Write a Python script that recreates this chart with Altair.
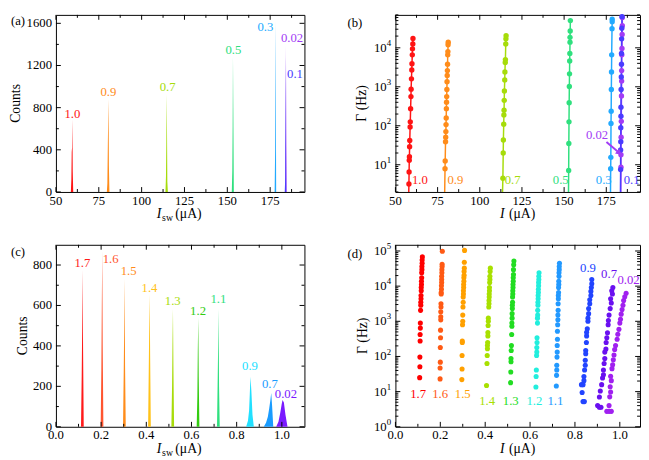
import altair as alt
import pandas as pd

FONT = "Liberation Serif"

# ---------------- panel (a): switching histograms ----------------
A_SERIES = ["1.0", "0.9", "0.7", "0.5", "0.3", "0.02", "0.1"]
A_COLORS = ["#ff1414", "#ff8c1a", "#a6dc0a", "#2fe07e", "#22aaff", "#a23cf5", "#4a3cff"]
A_HIST_X = {
    "1.0": [58.7, 59.0, 59.2, 59.4, 59.6, 59.8, 60.1],
    "0.9": [79.7, 80.0, 80.3, 80.5, 80.7, 80.9, 81.2],
    "0.7": [113.9, 114.2, 114.4, 114.6, 114.8, 115.0, 115.3],
    "0.5": [152.6, 152.9, 153.1, 153.3, 153.5, 153.8],
    "0.3": [177.6, 177.9, 178.1, 178.3, 178.5],
    "0.02": [183.7, 184.0, 184.2, 184.4, 184.6],
    "0.1": [183.5, 183.8, 184.0, 184.2, 184.4],
}
A_HIST_Y = {
    "1.0": [0, 120, 380, 420, 690, 200, 0],
    "0.9": [0, 80, 480, 700, 880, 250, 0],
    "0.7": [0, 150, 450, 930, 600, 100, 0],
    "0.5": [0, 200, 620, 1280, 800, 0],
    "0.3": [0, 400, 1620, 900, 0],
    "0.02": [0, 500, 1390, 600, 0],
    "0.1": [0, 140, 1280, 540, 0],
}
A_LABEL_X = [59.6, 80.6, 115.2, 153.5, 172.2, 187.8, 189.5]
A_LABEL_Y = [743, 945, 994, 1349, 1561, 1461, 1122]

# ---------------- panel (b): escape rates ----------------
B_SERIES = ["1.0", "0.9", "0.7", "0.5", "0.3", "0.02", "0.1"]
B_I = {
    "1.0": [58.0, 58.1, 58.2, 58.3, 58.4, 58.5, 58.7, 58.8, 59.0, 59.2, 59.3, 59.5, 59.7, 59.8, 60.0, 60.1, 60.3, 60.4],
    "0.9": [79.4, 79.5, 79.7, 79.8, 79.9, 80.0, 80.1, 80.2, 80.3, 80.4, 80.5, 80.6, 80.7, 80.8, 80.9, 81.0, 81.1, 81.2, 81.3],
    "0.7": [113.7, 113.9, 114.0, 114.2, 114.3, 114.4, 114.5, 114.6, 114.8, 114.9, 115.1, 115.2, 115.4, 115.5, 115.6],
    "0.5": [152.7, 152.8, 152.9, 153.0, 153.1, 153.2, 153.3, 153.4, 153.5, 153.5, 153.6, 153.7],
    "0.3": [177.6, 177.7, 177.8, 177.9, 178.0, 178.1, 178.2, 178.4, 178.5, 178.5],
    "0.02": [183.7, 183.7, 183.8, 183.9, 184.0, 184.1, 184.1, 184.2, 184.3, 184.4, 184.5, 184.5],
    "0.1": [183.5, 183.5, 183.6, 183.6, 183.7, 183.7, 183.8, 183.9, 184.0, 184.0, 184.1, 184.2, 184.3],
}
B_G = {
    "1.0": [3.2, 6.5, 13, 16, 29, 42, 93, 126, 275, 560, 870, 1600, 2700, 3900, 6600, 9400, 12600, 17400],
    "0.9": [7.9, 12.5, 39, 51, 71, 107, 158, 275, 400, 560, 850, 1350, 1950, 2600, 3800, 6600, 8000, 12000, 14000],
    "0.7": [4.5, 20, 43, 110, 190, 250, 450, 780, 1500, 2400, 4200, 5000, 12600, 17000, 20500],
    "0.5": [7.1, 35, 126, 390, 1020, 2150, 4600, 7200, 14000, 18600, 27000, 50000],
    "0.3": [7.9, 15.5, 115, 235, 850, 2400, 6600, 31000, 47000, 54000],
    "0.02": [8.6, 18, 51, 130, 580, 1400, 2600, 6600, 9600, 22000, 37000, 60000],
    "0.1": [7.5, 24, 39, 89, 175, 300, 850, 1780, 3800, 7200, 17000, 32000, 63000],
}
B_LINE_BOTTOM_I = {"1.0": 57.9, "0.9": 79.2, "0.7": 113.5, "0.5": 152.6, "0.3": 177.5, "0.02": 183.6, "0.1": 183.4}
B_LABELS = ["1.0", "0.9", "0.7", "0.5", "0.3", "0.1", "0.02"]
B_LABEL_X = [64.5, 85.5, 119.5, 148.0, 173.5, 190.0, 169.5]
B_LABEL_Y = [4.1, 4.1, 4.1, 4.1, 4.1, 4.1, 57]
B_ARROW = {"x": [175.1], "y": [38.5], "x2": [182.3], "y2": [21.0]}

# ---------------- panel (c): switching histograms ----------------
C_SERIES = ["1.7", "1.6", "1.5", "1.4", "1.3", "1.2", "1.1", "0.9", "0.7", "0.02"]
C_COLORS = ["#ff1a1a", "#ff5530", "#ff8c1a", "#ffc21a", "#a8dc0a", "#33cc11", "#2fe07e", "#22e0ff", "#1a9cff", "#7a1aff"]
C_HIST_X = {
    "1.7": [0.111, 0.114, 0.116, 0.118, 0.120, 0.123],
    "1.6": [0.198, 0.201, 0.203, 0.205, 0.207, 0.210],
    "1.5": [0.297, 0.300, 0.302, 0.304, 0.306, 0.309],
    "1.4": [0.408, 0.411, 0.413, 0.415, 0.417, 0.420],
    "1.3": [0.511, 0.514, 0.516, 0.518, 0.520, 0.523],
    "1.2": [0.623, 0.626, 0.628, 0.630, 0.632, 0.635],
    "1.1": [0.713, 0.716, 0.718, 0.720, 0.722, 0.725],
    "0.9": [0.842, 0.850, 0.855, 0.858, 0.861, 0.865, 0.870, 0.876],
    "0.7": [0.920, 0.930, 0.938, 0.944, 0.949, 0.953, 0.957, 0.962],
    "0.02": [0.975, 0.985, 0.993, 0.999, 1.003, 1.009, 1.016, 1.025],
}
C_HIST_Y = {
    "1.7": [0, 250, 470, 776, 400, 0],
    "1.6": [0, 280, 590, 868, 400, 0],
    "1.5": [0, 270, 480, 733, 300, 0],
    "1.4": [0, 300, 500, 655, 350, 0],
    "1.3": [0, 200, 420, 583, 300, 0],
    "1.2": [0, 150, 380, 539, 250, 0],
    "1.1": [0, 240, 400, 583, 200, 0],
    "0.9": [0, 30, 80, 160, 248, 180, 60, 0],
    "0.7": [0, 20, 50, 90, 130, 167, 100, 0],
    "0.02": [0, 25, 70, 110, 132, 120, 60, 0],
}
C_LABEL_X = [0.117, 0.242, 0.322, 0.414, 0.517, 0.629, 0.719, 0.859, 0.947, 1.018]
C_LABEL_Y = [812, 829, 768, 687, 623, 571, 631, 298, 209, 160]

# ---------------- panel (d): escape rates ----------------
D_SERIES = ["1.7", "1.6", "1.5", "1.4", "1.3", "1.2", "1.1", "0.9", "0.7", "0.02"]
D_COLORS = ["#ff0000", "#ff5a14", "#ffa000", "#a8e000", "#22dd22", "#22eedd", "#2299ff", "#2244ff", "#6a10f0", "#a020f0"]
D_I = {
    "1.7": [0.120, 0.119, 0.119, 0.118, 0.118, 0.117, 0.117, 0.116, 0.116, 0.115, 0.115, 0.114, 0.114, 0.113, 0.113, 0.112, 0.111, 0.111, 0.110, 0.110, 0.109, 0.109, 0.108],
    "1.6": [0.209, 0.208, 0.208, 0.207, 0.207, 0.206, 0.206, 0.206, 0.205, 0.205, 0.204, 0.204, 0.203, 0.203, 0.202, 0.202, 0.202, 0.201, 0.201, 0.200, 0.200, 0.199, 0.199],
    "1.5": [0.308, 0.307, 0.307, 0.306, 0.306, 0.305, 0.305, 0.304, 0.304, 0.303, 0.303, 0.302, 0.302, 0.301, 0.300, 0.300, 0.299, 0.298, 0.298, 0.297, 0.297, 0.296],
    "1.4": [0.423, 0.422, 0.421, 0.421, 0.420, 0.419, 0.419, 0.418, 0.418, 0.417, 0.417, 0.416, 0.414, 0.414, 0.413, 0.412, 0.412, 0.411, 0.410, 0.410, 0.409, 0.408, 0.406],
    "1.3": [0.528, 0.527, 0.526, 0.526, 0.525, 0.525, 0.524, 0.524, 0.523, 0.523, 0.522, 0.522, 0.521, 0.521, 0.520, 0.520, 0.519, 0.519, 0.518, 0.517, 0.516, 0.515, 0.515, 0.514, 0.513],
    "1.2": [0.640, 0.639, 0.639, 0.638, 0.638, 0.637, 0.637, 0.636, 0.636, 0.635, 0.635, 0.634, 0.634, 0.633, 0.633, 0.631, 0.631, 0.630, 0.630, 0.629, 0.628, 0.627, 0.626],
    "1.1": [0.731, 0.730, 0.730, 0.729, 0.729, 0.728, 0.728, 0.727, 0.727, 0.726, 0.726, 0.725, 0.725, 0.724, 0.724, 0.723, 0.722, 0.722, 0.721, 0.721, 0.720, 0.719, 0.719, 0.718, 0.717],
    "0.9": [0.875, 0.875, 0.873, 0.871, 0.871, 0.866, 0.866, 0.861, 0.861, 0.858, 0.858, 0.855, 0.852, 0.852, 0.851, 0.848, 0.848, 0.846, 0.846, 0.843, 0.840, 0.840, 0.836, 0.829, 0.832, 0.836, 0.842],
    "0.7": [0.969, 0.964, 0.967, 0.959, 0.962, 0.957, 0.952, 0.949, 0.948, 0.945, 0.942, 0.939, 0.938, 0.933, 0.933, 0.930, 0.927, 0.927, 0.923, 0.919, 0.913, 0.909, 0.901, 0.909, 0.916],
    "0.02": [1.028, 1.022, 1.017, 1.014, 1.010, 1.006, 1.003, 1.000, 0.996, 0.991, 0.988, 0.981, 0.977, 0.974, 0.971, 0.968, 0.965, 0.959, 0.962, 0.957, 0.959, 0.955, 0.952, 0.942, 0.952, 0.962],
}
D_G = {
    "1.7": [68000, 55000, 45000, 36000, 29500, 24000, 17300, 13800, 11200, 9100, 7400, 5400, 4400, 3500, 2850, 2050, 890, 640, 420, 275, 96, 51, 25],
    "1.6": [98000, 42000, 36000, 29500, 24000, 19000, 15500, 12600, 10200, 8200, 6600, 6000, 3150, 2550, 1860, 1350, 1100, 560, 340, 180, 69, 47, 23],
    "1.5": [104000, 48000, 32500, 26000, 20500, 17300, 13800, 11200, 9100, 7400, 6000, 4900, 3500, 2550, 1500, 1000, 800, 275, 250, 107, 44, 22],
    "1.4": [32500, 26000, 19000, 15500, 12600, 9100, 7400, 6000, 4900, 3900, 3150, 2550, 1230, 1000, 760, 480, 385, 250, 205, 165, 107, 63, 15],
    "1.3": [52000, 40500, 29500, 21500, 17300, 13800, 11200, 9100, 7400, 6000, 4900, 3500, 2850, 2300, 1650, 1230, 890, 720, 420, 205, 148, 87, 71, 36, 18],
    "1.2": [24000, 19000, 15500, 12600, 10200, 8200, 6600, 5400, 4400, 3500, 2850, 2050, 1500, 1230, 890, 340, 250, 180, 133, 107, 41, 27, 13.5],
    "1.1": [45000, 36000, 29500, 24000, 19000, 13800, 11200, 9100, 6600, 5400, 4400, 3150, 2050, 1500, 1100, 800, 520, 310, 205, 133, 96, 56, 41, 29, 14.5],
    "0.9": [15500, 11700, 9100, 7100, 5400, 4100, 3150, 2300, 1650, 1230, 1000, 610, 490, 385, 250, 148, 120, 78, 56, 41, 27, 20.5, 15.8, 15.8, 9.4, 5.2, 5.2],
    "0.7": [9100, 7400, 6000, 4400, 3300, 2300, 1500, 1050, 800, 470, 340, 250, 163, 133, 87, 63, 41, 30, 24.5, 15.8, 10.4, 7.0, 4.0, 3.6, 3.6],
    "0.02": [6300, 5000, 3900, 2850, 2150, 1600, 1150, 890, 590, 430, 310, 205, 158, 110, 80, 58, 45, 27.5, 20.5, 13.8, 9.8, 7.1, 4.0, 2.75, 2.75, 2.75],
}
D_LABEL_X = [0.101, 0.199, 0.300, 0.409, 0.514, 0.619, 0.713, 0.858, 0.952, 1.039]
D_LABEL_Y = [8.3, 8.3, 8.3, 5.3, 5.3, 5.3, 5.3, 32500, 22000, 15000]

# ---------------- ticks and tick labels ----------------
A_XMAJ = [50, 75, 100, 125, 150, 175]
A_XLAB = ["50", "75", "100", "125", "150", "175"]
A_XMIN = [62.5, 87.5, 112.5, 137.5, 162.5, 187.5]
A_YMAJ = [0, 400, 800, 1200, 1600]
A_YLAB = ["0", "400", "800", "1200", "1600"]
A_YMIN = [200, 600, 1000, 1400]
C_XMAJ = [0.0, 0.2, 0.4, 0.6, 0.8, 1.0]
C_XLAB = ["0.0", "0.2", "0.4", "0.6", "0.8", "1.0"]
C_XMIN = [0.1, 0.3, 0.5, 0.7, 0.9]
C_YMAJ = [0, 200, 400, 600, 800]
C_YLAB = ["0", "200", "400", "600", "800"]
C_YMIN = [100, 300, 500, 700]
MINOR_MULT = [2, 3, 4, 5, 6, 7, 8, 9]
B_YMAJ = [10, 100, 1000, 10000]
B_YEXP = ["1", "2", "3", "4"]
B_YMIN = [m * d for d in [1, 10, 100, 1000, 10000] for m in MINOR_MULT if 2 <= m * d <= 70000]
D_YMAJ = [1, 10, 100, 1000, 10000, 100000]
D_YEXP = ["0", "1", "2", "3", "4", "5"]
D_YMIN = [m * d for d in [1, 10, 100, 1000, 10000] for m in MINOR_MULT]


def long_df(xd, yd, order, colors):
    rows = []
    for s, c in zip(order, colors):
        for x, y in zip(xd[s], yd[s]):
            rows.append({"x": x, "y": y, "s": s, "c": c})
    return pd.DataFrame(rows)


COLOR = alt.Color("c:N", scale=None, legend=None)


def tick_layers(xs, ys, W, H, xmaj, xmin, ymaj, ymin):
    layers = []
    for vals, L in ((xmaj, 5), (xmin, 3)):
        b = alt.Chart(pd.DataFrame({"v": vals})).mark_rule(color="black", strokeWidth=1)
        layers.append(b.encode(x=alt.X("v:Q", scale=xs, axis=None), y=alt.value(H), y2=alt.value(H - L)))
        layers.append(b.encode(x=alt.X("v:Q", scale=xs, axis=None), y=alt.value(0), y2=alt.value(L)))
    for vals, L in ((ymaj, 5), (ymin, 3)):
        b = alt.Chart(pd.DataFrame({"v": vals})).mark_rule(color="black", strokeWidth=1)
        layers.append(b.encode(y=alt.Y("v:Q", scale=ys, axis=None), x=alt.value(0), x2=alt.value(L)))
        layers.append(b.encode(y=alt.Y("v:Q", scale=ys, axis=None), x=alt.value(W), x2=alt.value(W - L)))
    return layers


def xlabels(xs, H, vals, labs):
    df = pd.DataFrame({"v": vals, "t": labs})
    return alt.Chart(df).mark_text(font=FONT, fontSize=13, align="center", baseline="top", color="black").encode(
        x=alt.X("v:Q", scale=xs, axis=None), y=alt.value(H + 3), text="t:N")


def ylabels(ys, vals, labs):
    df = pd.DataFrame({"v": vals, "t": labs})
    return alt.Chart(df).mark_text(font=FONT, fontSize=13, align="right", baseline="middle", color="black").encode(
        y=alt.Y("v:Q", scale=ys, axis=None), x=alt.value(-4), text="t:N")


def ylabels_log(ys, vals, exps):
    df = pd.DataFrame({"v": vals, "t": ["10"] * len(vals), "e": exps})
    base = alt.Chart(df)
    main = base.mark_text(font=FONT, fontSize=13, align="right", baseline="middle", color="black").encode(
        y=alt.Y("v:Q", scale=ys, axis=None), x=alt.value(-9), text="t:N")
    sup = base.mark_text(font=FONT, fontSize=9, align="left", baseline="middle", color="black", dy=-5).encode(
        y=alt.Y("v:Q", scale=ys, axis=None), x=alt.value(-9), text="e:N")
    return [main, sup]


def text_piece(t, x, y, size=14, style="normal", align="left", baseline="alphabetic", angle=0):
    return alt.Chart(pd.DataFrame({"t": [t]})).mark_text(
        font=FONT, fontSize=size, fontStyle=style, align=align, baseline=baseline, color="black", angle=angle
    ).encode(x=alt.value(x), y=alt.value(y), text="t:N")


def xtitle(W, H, sub):
    if sub:
        return [text_piece("I", W / 2 - 24, H + 27, style="italic"),
                text_piece("sw", W / 2 - 18.5, H + 30, size=10),
                text_piece("(μA)", W / 2 - 5, H + 27)]
    return [text_piece("I", W / 2 - 18, H + 27, style="italic"),
            text_piece("(μA)", W / 2 - 9, H + 27)]


def ytitle(t, x, H):
    return text_piece(t, x, H / 2, align="center", baseline="middle", angle=270)


def labels_layer(xs, ys, lx, ly, names, colors):
    df = pd.DataFrame({"x": lx, "y": ly, "s": names, "c": colors})
    return alt.Chart(df).mark_text(font=FONT, fontSize=13, align="center", baseline="middle").encode(
        x=alt.X("x:Q", scale=xs, axis=None), y=alt.Y("y:Q", scale=ys, axis=None),
        text="s:N", color=COLOR)


WL, WR, HT, HB = 254, 250, 181, 186

# ---------- (a) ----------
xs_a = alt.Scale(domain=[50, 195], nice=False, zero=False)
ys_a = alt.Scale(domain=[0, 1680], nice=False, zero=False)
hist_a = alt.Chart(long_df(A_HIST_X, A_HIST_Y, A_SERIES, A_COLORS)).mark_area(opacity=1, interpolate="linear").encode(
    x=alt.X("x:Q", scale=xs_a, axis=None),
    y=alt.Y("y:Q", scale=ys_a, axis=None, stack=None),
    color=COLOR, detail="s:N")
panel_a = alt.layer(
    hist_a,
    labels_layer(xs_a, ys_a, A_LABEL_X, A_LABEL_Y, A_SERIES, A_COLORS),
    *tick_layers(xs_a, ys_a, WL, HT, A_XMAJ, A_XMIN, A_YMAJ, A_YMIN),
    xlabels(xs_a, HT, A_XMAJ, A_XLAB), ylabels(ys_a, A_YMAJ, A_YLAB),
    ytitle("Counts", -41, HT),
    *xtitle(WL, HT, True),
    text_piece("(a)", -46, 0, size=13, baseline="top"),
).properties(width=WL, height=HT)

# ---------- (b) ----------
xs_b = alt.Scale(domain=[50, 195], nice=False, zero=False)
ys_b = alt.Scale(type="log", domain=[2, 70000], nice=False)
pts_b = long_df(B_I, B_G, B_SERIES, A_COLORS)
bottom_b = pd.DataFrame({"x": [B_LINE_BOTTOM_I[s] for s in B_SERIES], "y": [2] * len(B_SERIES),
                         "s": B_SERIES, "c": A_COLORS})
line_b = pd.concat([pts_b, bottom_b], ignore_index=True)
lines_b = alt.Chart(line_b).mark_line(strokeWidth=1.5).encode(
    x=alt.X("x:Q", scale=xs_b, axis=None),
    y=alt.Y("y:Q", scale=ys_b, axis=None),
    color=COLOR, detail="s:N", order=alt.Order("y:Q"))
dots_b = alt.Chart(pts_b).mark_circle(size=30, opacity=1).encode(
    x=alt.X("x:Q", scale=xs_b, axis=None), y=alt.Y("y:Q", scale=ys_b, axis=None), color=COLOR)
arrow_df = pd.DataFrame(B_ARROW)
arrow_line = alt.Chart(arrow_df).mark_rule(color="#a23cf5", strokeWidth=2).encode(
    x=alt.X("x:Q", scale=xs_b, axis=None), y=alt.Y("y:Q", scale=ys_b, axis=None), x2="x2:Q", y2="y2:Q")
arrow_head = alt.Chart(arrow_df).mark_point(shape="triangle", filled=True, size=45, angle=131, color="#a23cf5",
                                            opacity=1).encode(
    x=alt.X("x2:Q", scale=xs_b, axis=None), y=alt.Y("y2:Q", scale=ys_b, axis=None))
B_LABEL_C = [A_COLORS[A_SERIES.index(s)] for s in B_LABELS]
panel_b = alt.layer(
    lines_b, dots_b, arrow_line, arrow_head,
    labels_layer(xs_b, ys_b, B_LABEL_X, B_LABEL_Y, B_LABELS, B_LABEL_C),
    *tick_layers(xs_b, ys_b, WR, HT, A_XMAJ, A_XMIN, B_YMAJ, B_YMIN),
    xlabels(xs_b, HT, A_XMAJ, A_XLAB), *ylabels_log(ys_b, B_YMAJ, B_YEXP),
    ytitle("Γ (Hz)", -34, HT),
    *xtitle(WR, HT, False),
    text_piece("(b)", -49, 2, size=13, baseline="top"),
).properties(width=WR, height=HT)

# ---------- (c) ----------
xs_c = alt.Scale(domain=[0, 1.1], nice=False, zero=False)
ys_c = alt.Scale(domain=[0, 900], nice=False, zero=False)
hist_c = alt.Chart(long_df(C_HIST_X, C_HIST_Y, C_SERIES, C_COLORS)).mark_area(opacity=1, interpolate="linear").encode(
    x=alt.X("x:Q", scale=xs_c, axis=None),
    y=alt.Y("y:Q", scale=ys_c, axis=None, stack=None),
    color=COLOR, detail="s:N")
panel_c = alt.layer(
    hist_c,
    labels_layer(xs_c, ys_c, C_LABEL_X, C_LABEL_Y, C_SERIES, C_COLORS),
    *tick_layers(xs_c, ys_c, WL, HB, C_XMAJ, C_XMIN, C_YMAJ, C_YMIN),
    xlabels(xs_c, HB, C_XMAJ, C_XLAB), ylabels(ys_c, C_YMAJ, C_YLAB),
    ytitle("Counts", -34, HB),
    *xtitle(WL, HB, True),
    text_piece("(c)", -46, 1, size=13, baseline="top"),
).properties(width=WL, height=HB)

# ---------- (d) ----------
xs_d = alt.Scale(domain=[0, 1.09], nice=False, zero=False)
ys_d = alt.Scale(type="log", domain=[1, 150000], nice=False)
dots_d = alt.Chart(long_df(D_I, D_G, D_SERIES, D_COLORS)).mark_circle(size=27, opacity=1).encode(
    x=alt.X("x:Q", scale=xs_d, axis=None),
    y=alt.Y("y:Q", scale=ys_d, axis=None),
    color=COLOR)
panel_d = alt.layer(
    dots_d,
    labels_layer(xs_d, ys_d, D_LABEL_X, D_LABEL_Y, D_SERIES, D_COLORS),
    *tick_layers(xs_d, ys_d, WR, HB, C_XMAJ, C_XMIN, D_YMAJ, D_YMIN),
    xlabels(xs_d, HB, C_XMAJ, C_XLAB), *ylabels_log(ys_d, D_YMAJ, D_YEXP),
    ytitle("Γ (Hz)", -33, HB),
    *xtitle(WR, HB, False),
    text_piece("(d)", -49, 3, size=13, baseline="top"),
).properties(width=WR, height=HB)

chart = alt.vconcat(
    alt.hconcat(panel_a, panel_b, spacing=42),
    alt.hconcat(panel_c, panel_d, spacing=42),
    spacing=17,
).properties(padding=0).configure_view(stroke="black", strokeWidth=1)

chart.save("out.html", embed_options={"renderer": "svg", "actions": False})
